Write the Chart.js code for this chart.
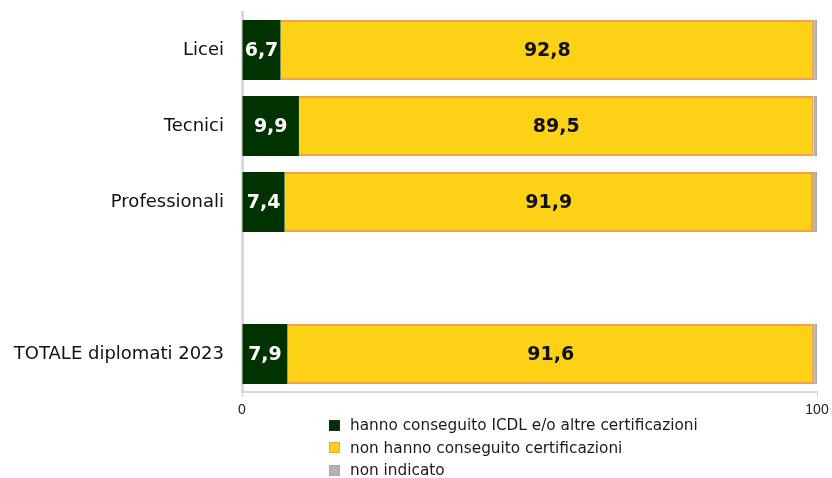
<!DOCTYPE html>
<html><head><meta charset="utf-8">
<script src="https://cdn.jsdelivr.net/npm/chart.js@4/dist/chart.umd.min.js"></script>
<style>
html,body{margin:0;padding:0;background:#fff;}
#wrap{position:relative;width:832px;height:478px;}
#legend{position:absolute;left:329px;top:414px;font-family:"DejaVu Sans",sans-serif;font-size:15.3px;color:#1a1a1a;line-height:22.5px;}
#legend .it{display:flex;align-items:center;white-space:nowrap;}
#legend .bx{display:inline-block;width:9px;height:9px;margin-right:10px;border:1.5px solid;}
</style></head>
<body><div id="wrap"><canvas id="c" width="832" height="478"></canvas><div id="legend"></div></div>
<script>
const categories = ["Licei", "Tecnici", "Professionali", "", "TOTALE diplomati 2023"];
const certificati = [6.7, 9.9, 7.4, null, 7.9];
const nonCertificati = [92.8, 89.5, 91.9, null, 91.6];
const nonIndicato = [0.5, 0.6, 0.7, null, 0.5];
const seriesNames = ["hanno conseguito ICDL e/o altre certificazioni", "non hanno conseguito certificazioni", "non indicato"];
const xTicks = [0, 100];

const fills = ["#013300", "#FDD116", "#B4B4B4"];
const borders = ["#013300", "#F59F48", "#A8A8A8"];
const labelColors = ["#ffffff", "#111111", null];

const valueLabels = {
  id: "valueLabels",
  afterDatasetsDraw(chart) {
    const ctx = chart.ctx;
    ctx.save();
    ctx.font = "bold 19px 'DejaVu Sans', sans-serif";
    ctx.textAlign = "center";
    ctx.textBaseline = "middle";
    chart.data.datasets.forEach((ds, di) => {
      if (!labelColors[di]) return;
      const meta = chart.getDatasetMeta(di);
      meta.data.forEach((bar, i) => {
        const v = ds.data[i];
        if (v == null) return;
        const cx = (bar.x + bar.base) / 2;
        ctx.fillStyle = labelColors[di];
        ctx.fillText(v.toFixed(1).replace(".", ","), cx, bar.y + 1);
      });
    });
    ctx.restore();
  }
};

const chart = new Chart(document.getElementById("c"), {
  type: "bar",
  data: {
    labels: categories,
    datasets: [
      { label: seriesNames[0], data: certificati, backgroundColor: fills[0], borderColor: borders[0], borderWidth: 0 },
      { label: seriesNames[1], data: nonCertificati, backgroundColor: fills[1], borderColor: borders[1], borderWidth: 2 },
      { label: seriesNames[2], data: nonIndicato, backgroundColor: fills[2], borderColor: borders[2], borderWidth: 1 }
    ]
  },
  options: {
    indexAxis: "y",
    responsive: false,
    animation: false,
    layout: { padding: { left: 0, right: 15, top: 12, bottom: 56 } },
    datasets: { bar: { barPercentage: 0.79, categoryPercentage: 1 } },
    plugins: { legend: { display: false }, tooltip: { enabled: false } },
    scales: {
      x: {
        stacked: true, min: 0, max: 100,
        afterBuildTicks: s => { s.ticks = xTicks.map(v => ({ value: v })); },
        afterFit: s => { s.height = 30; s.paddingRight = 0; s.paddingLeft = 0; },
        grid: { drawOnChartArea: false, color: "#d0d0d0", tickLength: 5 },
        border: { color: "#d9d9d9", width: 2 },
        ticks: { color: "#222", font: { family: "'Liberation Sans', sans-serif", size: 14 }, padding: 5, maxRotation: 0 }
      },
      y: {
        stacked: true,
        afterFit: s => { s.width = 242; s.paddingTop = 0; s.paddingBottom = 0; },
        grid: { display: false },
        border: { color: "#dadada", width: 3 },
        ticks: { color: "#111", font: { family: "'DejaVu Sans', sans-serif", size: 18 }, padding: 10 }
      }
    }
  },
  plugins: [valueLabels]
});

const lg = document.getElementById("legend");
seriesNames.forEach((n, i) => {
  const d = document.createElement("div");
  d.className = "it";
  const b = document.createElement("span");
  b.className = "bx";
  b.style.background = fills[i];
  b.style.borderColor = i === 0 ? "#2a2a2a" : borders[i];
  d.appendChild(b);
  d.appendChild(document.createTextNode(n));
  lg.appendChild(d);
});
</script></body></html>
